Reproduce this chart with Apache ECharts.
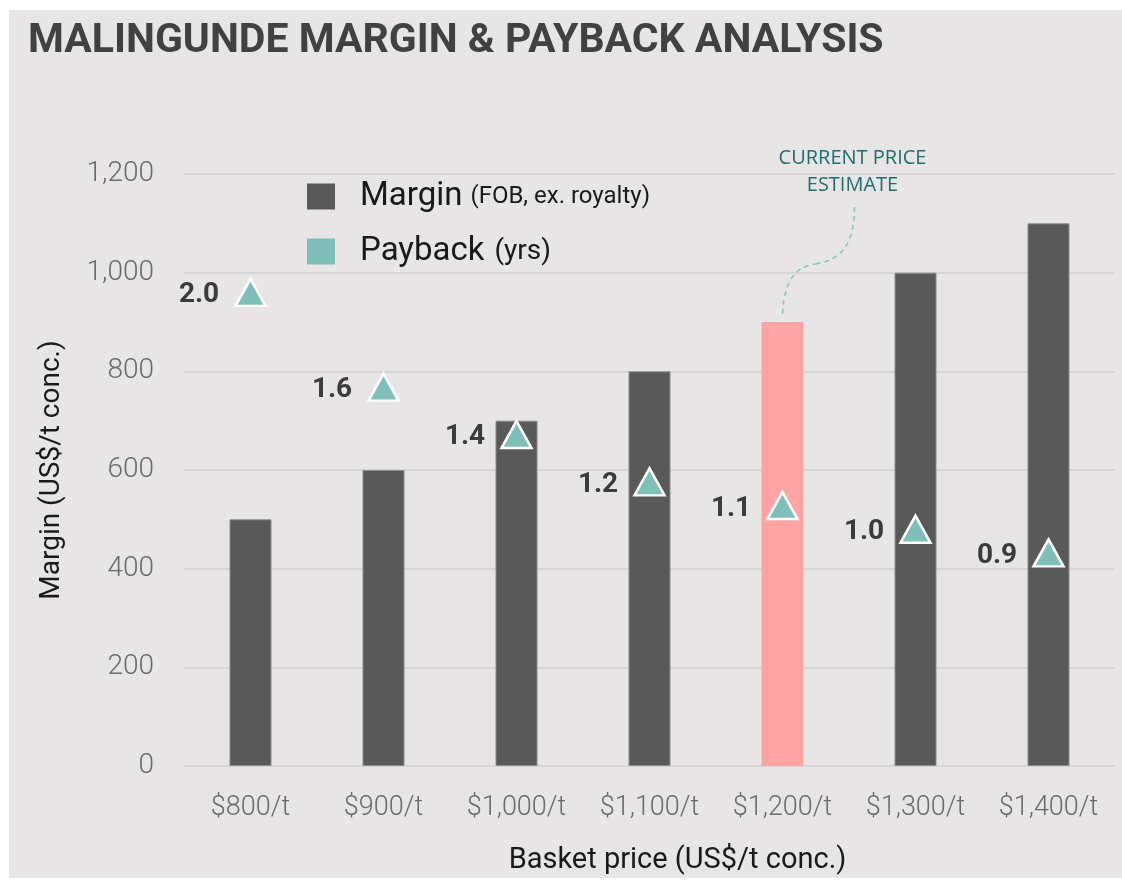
<!DOCTYPE html>
<html>
<head>
<meta charset="utf-8">
<script src="https://cdn.jsdelivr.net/npm/echarts@6/dist/echarts.min.js"></script>
<style>
  html, body { margin: 0; padding: 0; background: #ffffff; }
  #bg { position: absolute; left: 9px; top: 10px; width: 1113px; height: 868px; background: #e7e5e6; }
  #chart { position: absolute; left: 0; top: 0; width: 1122px; height: 882px; }
</style>
</head>
<body>
<div id="bg"></div>
<div id="chart"></div>
<script>
// ---- data ----
const categories = ['$800/t', '$900/t', '$1,000/t', '$1,100/t', '$1,200/t', '$1,300/t', '$1,400/t'];
const marginValues = [500, 600, 700, 800, 900, 1000, 1100];
const paybackYears = [2.0, 1.6, 1.4, 1.2, 1.1, 1.0, 0.9];
const currentPriceIndex = 4;
const marginAxisMin = 0, marginAxisMax = 1200, marginAxisStep = 200;
const paybackAxisMin = 0, paybackAxisMax = 2.5;
const annotationLines = ['CURRENT PRICE', 'ESTIMATE'];

const FONT = 'Roboto';
const BAR = '#595959', PINK = '#ffa4a4', TEAL = '#7ebfb9';

const chart = echarts.init(document.getElementById('chart'), null, { renderer: 'canvas' });

const option = {
  backgroundColor: 'transparent',
  animation: false,
  title: {
    text: 'MALINGUNDE MARGIN & PAYBACK ANALYSIS',
    left: 23, top: 16,
    textStyle: { fontFamily: FONT, fontWeight: 'bold', fontSize: 41, color: '#414141' }
  },
  grid: { left: 184, right: 7, top: 174, bottom: 116, containLabel: false },
  legend: {
    orient: 'vertical',
    left: 302, top: 175,
    itemWidth: 28, itemHeight: 26,
    itemGap: 22,
    icon: 'rect',
    data: [
      { name: 'Margin', itemStyle: { color: BAR, borderWidth: 0 } },
      { name: 'Payback', itemStyle: { color: TEAL, borderWidth: 0 } }
    ],
    formatter: function (name) {
      return name === 'Margin' ? '{big|Margin}{small|(FOB, ex. royalty)}' : '{big|Payback}{mid|(yrs)}';
    },
    textStyle: {
      padding: [0, 0, 0, 20],
      rich: {
        big: { fontFamily: FONT, fontSize: 33, color: '#1a1a1a', lineHeight: 36 },
        small: { fontFamily: FONT, fontSize: 24, color: '#1a1a1a', lineHeight: 36, padding: [0, 0, 0, 8] },
        mid: { fontFamily: FONT, fontSize: 28, color: '#1a1a1a', lineHeight: 36, padding: [0, 0, 0, 10] }
      }
    }
  },
  xAxis: {
    type: 'category',
    data: categories,
    axisLine: { show: false },
    axisTick: { show: false },
    axisLabel: { interval: 0, fontFamily: FONT, fontWeight: 300, fontSize: 27, color: '#6b6b6b', margin: 29 },
    name: 'Basket price (US$/t conc.)',
    nameLocation: 'middle',
    nameGap: 80,
    nameTextStyle: { fontFamily: FONT, fontSize: 29, color: '#1a1a1a', padding: [0, 0, 0, 56] }
  },
  yAxis: [
    {
      type: 'value',
      min: marginAxisMin, max: marginAxisMax, interval: marginAxisStep,
      axisLine: { show: false },
      axisTick: { show: false },
      splitLine: { show: true, lineStyle: { color: '#d6d4d5', width: 2 } },
      axisLabel: {
        fontFamily: FONT, fontWeight: 300, fontSize: 28, color: '#6b6b6b', margin: 30,
        formatter: v => v.toLocaleString('en-US')
      },
      name: 'Margin (US$/t conc.)',
      nameLocation: 'middle',
      nameGap: 118,
      nameRotate: 90,
      nameTextStyle: { fontFamily: FONT, fontSize: 28, color: '#1a1a1a', padding: [0, 0, 0, 0] }
    },
    {
      type: 'value',
      min: paybackAxisMin, max: paybackAxisMax,
      show: false,
      splitLine: { show: false }
    }
  ],
  series: [
    {
      name: 'Margin',
      type: 'bar',
      yAxisIndex: 0,
      barWidth: 42,
      z: 2,
      data: marginValues.map((v, i) => ({
        value: v,
        itemStyle: i === currentPriceIndex
          ? { color: PINK, borderWidth: 0 }
          : { color: BAR, borderColor: '#8c8c8c', borderWidth: 1 }
      }))
    },
    {
      name: 'Payback',
      type: 'scatter',
      yAxisIndex: 1,
      symbol: 'triangle',
      symbolSize: [30, 27],
      z: 5,
      itemStyle: { color: TEAL, borderColor: '#ffffff', borderWidth: 2.5, opacity: 1 },
      label: {
        show: true,
        position: 'left',
        distance: 15,
        offset: [0, 3],
        fontFamily: FONT, fontWeight: 'bold', fontSize: 28, color: '#3b3b3b',
        formatter: p => p.value.toFixed(1)
      },
      data: paybackYears
    }
  ]
};

chart.setOption(option);

// annotation placed relative to the current-price bar top
const barTop = chart.convertToPixel({ xAxisIndex: 0, yAxisIndex: 0 }, [currentPriceIndex, marginValues[currentPriceIndex]]);
const bx = barTop[0], by = barTop[1];
const dashStyle = { fill: null, stroke: '#86c4be', lineWidth: 1.5, lineDash: [5, 4] };
chart.setOption({
  graphic: [
    {
      type: 'bezierCurve',
      shape: { x1: bx, y1: by - 8, cpx1: bx + 2, cpy1: by - 48, cpx2: bx + 18, cpy2: by - 56, x2: bx + 33, y2: by - 58 },
      style: dashStyle,
      z: 10
    },
    {
      type: 'bezierCurve',
      shape: { x1: bx + 33, y1: by - 58, cpx1: bx + 58, cpy1: by - 62, cpx2: bx + 72, cpy2: by - 76, x2: bx + 72, y2: by - 116 },
      style: dashStyle,
      z: 10
    },
    {
      type: 'text',
      x: bx + 70, y: by - 177,
      style: {
        text: annotationLines.join('\n'),
        fontFamily: 'Open Sans', fontSize: 20, fill: '#1e6f69',
        align: 'center', verticalAlign: 'top', lineHeight: 27
      },
      z: 10
    }
  ]
});
</script>
</body>
</html>
